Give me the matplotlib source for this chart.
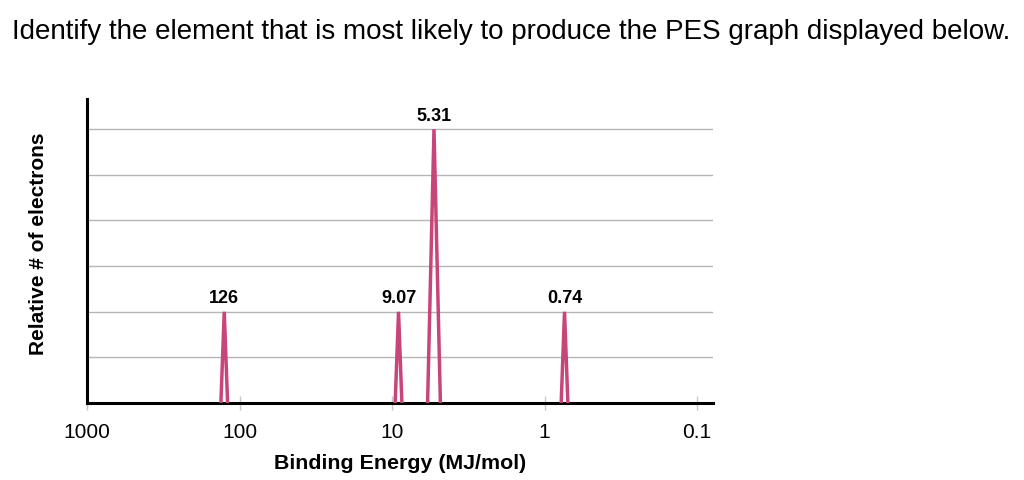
import matplotlib

matplotlib.use("Agg")
import matplotlib.pyplot as plt
import numpy as np

# PES peaks: binding energy (MJ/mol) and relative number of electrons
energies = [126, 9.07, 5.31, 0.74]
heights = [2, 2, 6, 2]
peak_labels = ["126", "9.07", "5.31", "0.74"]
xticks = [1000, 100, 10, 1, 0.1]
xtick_labels = ["1000", "100", "10", "1", "0.1"]

plt.rcParams["font.family"] = ["Liberation Sans", "DejaVu Sans"]

fig = plt.figure(figsize=(10.24, 4.81), dpi=100)
ax = fig.add_axes([0.085, 0.160, 0.611, 0.632])

peak_color = "#C8457A"
for e, h, lab in zip(energies, heights, peak_labels):
    w = 0.012 + 0.005 * h  # half width of the spike, in decades
    xs = [e * 10 ** w, e, e * 10 ** -w]
    ax.plot(xs, [0, h, 0], color=peak_color, lw=2.5, solid_joinstyle="miter",
            zorder=3)
    ax.annotate(lab, (e, h), xytext=(0, 4), textcoords="offset points",
                ha="center", va="bottom", fontsize=13, weight="bold")

ax.set_xscale("log")
ax.set_xlim(1000, 0.079)
ax.set_ylim(0, 6.66)

ax.set_yticks(np.arange(1, 7))
ax.set_yticklabels([])
ax.tick_params(axis="y", length=0)
ax.yaxis.grid(True, color="#b5b5b5", lw=1.0)
ax.set_axisbelow(True)

ax.set_xticks(xticks)
ax.set_xticklabels(xtick_labels, fontsize=15)
ax.xaxis.set_minor_locator(matplotlib.ticker.NullLocator())
ax.tick_params(axis="x", direction="inout", length=10, width=1,
               color="#c8c8c8", pad=9)

for side in ("top", "right"):
    ax.spines[side].set_visible(False)
for side in ("left", "bottom"):
    ax.spines[side].set_linewidth(2.2)
    ax.spines[side].set_color("black")

ax.set_xlabel("Binding Energy (MJ/mol)", fontsize=15.4, weight="bold",
              labelpad=8)
ax.set_ylabel("Relative # of electrons", fontsize=15, weight="bold")
ax.yaxis.set_label_coords(-0.063, 0.526)

fig.text(0.012, 0.933,
         "Identify the element that is most likely to produce the PES graph displayed below.",
         fontsize=20, ha="left", va="center")

fig.savefig("out.png", dpi=100, facecolor="white")
plt.close(fig)
